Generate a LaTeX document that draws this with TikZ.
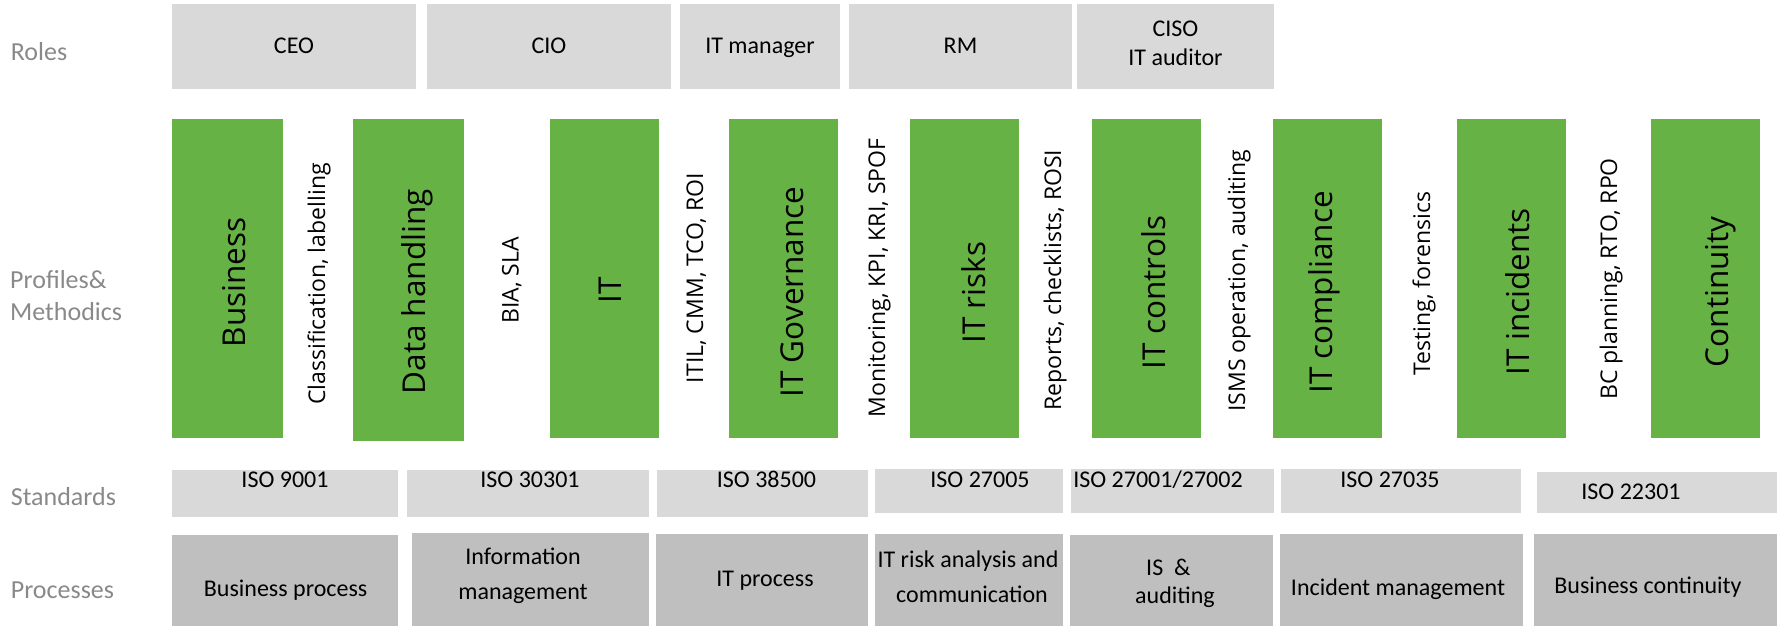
\documentclass[tikz,border=0pt]{standalone}
\usepackage{fontspec}
\setmainfont{Carlito}
\newfontfamily\osans{Open Sans}
\definecolor{lgray}{RGB}{217,217,217}
\definecolor{dgray}{RGB}{191,191,191}
\definecolor{mygreen}{RGB}{103,178,69}
\definecolor{labgray}{RGB}{137,137,137}
\newcommand\rbox[6]{\node[boxbase,fill=#2,minimum width={(#5-#3)*1pt},minimum height={(#6-#4)*1pt}] (#1) at (#3,#4) {};}
\tikzset{
  boxbase/.style={anchor=north west,inner sep=0pt,outer sep=0pt,draw=none},
  lbl/.style={font=\fontsize{26}{30}\selectfont,text=labgray,inner sep=0pt,anchor=base west},
  txt/.style={font=\fontsize{24}{28}\selectfont,text=black,inner sep=0pt,anchor=base},
  gtxt/.style={font=\osans\fontsize{31.5}{36}\selectfont,text=black,rotate=90,inner sep=0pt,anchor=base},
  mtxt/.style={font=\osans\fontsize{23}{28}\selectfont,text=black,rotate=90,inner sep=0pt,anchor=base},
}
\begin{document}
\begin{tikzpicture}[x=1pt,y=-1pt]
\useasboundingbox (0,0) rectangle (1777,626);
% left labels
\node[lbl] (lroles) at (10.7,60) {Roles};
\node[lbl] (lprof1) at (10,288) {Profiles\&};
\node[lbl] (lprof2) at (10,320) {Methodics};
\node[lbl] (lstd) at (10.7,505) {Standards};
\node[lbl] (lproc) at (10.7,598) {Processes};
% roles
\rbox{r1}{lgray}{172}{4}{416}{88.7}
\rbox{r2}{lgray}{427}{4}{671}{88.7}
\rbox{r3}{lgray}{680}{4}{840}{88.7}
\rbox{r4}{lgray}{849}{4}{1072}{88.7}
\rbox{r5}{lgray}{1077}{4}{1274}{88.7}
\node[txt] (tr1) at (294,54) {CEO};
\node[txt] (tr2) at (549,54) {CIO};
\node[txt] (tr3) at (760,54) {IT manager};
\node[txt] (tr4) at (960.5,54) {RM};
\node[txt] (tr5a) at (1175.5,37) {CISO};
\node[txt] (tr5b) at (1175.5,66) {IT auditor};
% green columns
\rbox{g1}{mygreen}{172}{119}{283}{437.7}
\rbox{g2}{mygreen}{353}{119}{464}{440.7}
\rbox{g3}{mygreen}{550}{119}{658.6}{437.7}
\rbox{g4}{mygreen}{729}{119}{838}{437.7}
\rbox{g5}{mygreen}{910}{119}{1019}{437.7}
\rbox{g6}{mygreen}{1092}{119}{1200.7}{437.7}
\rbox{g7}{mygreen}{1273}{119}{1382}{437.7}
\rbox{g8}{mygreen}{1457}{119}{1566}{437.7}
\rbox{g9}{mygreen}{1651}{119}{1760}{437.7}
\node[gtxt] (tg1) at (245,282.5) {Business};
\node[gtxt] (tg2) at (425,291.7) {Data handling};
\node[gtxt] (tg3) at (621,290) {IT};
\node[gtxt] (tg4) at (803,292) {IT Governance};
\node[gtxt] (tg5) at (985,292.5) {IT risks};
\node[gtxt] (tg6) at (1165.6,292.5) {IT controls};
\node[gtxt] (tg7) at (1332,292.5) {IT compliance};
\node[gtxt] (tg8) at (1529,291.7) {IT incidents};
\node[gtxt] (tg9) at (1728,291.7) {Continuity};
% methods
\node[mtxt] (m1) at (325,284) {Classification, labelling};
\node[mtxt] (m2) at (518.5,280.5) {BIA, SLA};
\node[mtxt] (m3) at (703,278) {ITIL, CMM, TCO, ROI};
\node[mtxt] (m4) at (885,278) {Monitoring, KPI, KRI, SPOF};
\node[mtxt] (m5) at (1061,280) {Reports, checklists, ROSI};
\node[mtxt] (m6) at (1245,280.5) {ISMS operation, auditing};
\node[mtxt] (m7) at (1430,283.5) {Testing, forensics};
\node[mtxt] (m8) at (1617,279) {BC planning, RTO, RPO};
% standards
\rbox{s1}{lgray}{172}{470}{398}{516.7}
\rbox{s2}{lgray}{406.8}{470}{649}{516.7}
\rbox{s3}{lgray}{656.6}{470}{868}{516.7}
\rbox{s4}{lgray}{874.8}{469}{1063}{512.7}
\rbox{s5}{lgray}{1070.7}{469}{1273.8}{512.7}
\rbox{s6}{lgray}{1281}{469}{1520.7}{512.7}
\rbox{s7}{lgray}{1537}{471.7}{1777}{512.7}
\node[txt] (ts1) at (285,487) {ISO 9001};
\node[txt] (ts2) at (530,487) {ISO 30301};
\node[txt] (ts3) at (766.5,487) {ISO 38500};
\node[txt] (ts4) at (980,487) {ISO 27005};
\node[txt] (ts5) at (1158,487) {ISO 27001/27002};
\node[txt] (ts6) at (1390,487) {ISO 27035};
\node[txt] (ts7) at (1631,499.5) {ISO 22301};
% processes
\rbox{p1}{dgray}{172}{535}{398}{626}
\rbox{p2}{dgray}{412}{533.3}{649}{626}
\rbox{p3}{dgray}{656}{534}{868}{626}
\rbox{p4}{dgray}{875}{534}{1063}{626}
\rbox{p5}{dgray}{1070}{535}{1273}{626}
\rbox{p6}{dgray}{1279.6}{534}{1522.7}{626}
\rbox{p7}{dgray}{1534}{534}{1777}{626}
\node[txt] (tp1) at (285.6,596) {Business process};
\node[txt] (tp2a) at (523,564) {Information};
\node[txt] (tp2b) at (523,599) {management};
\node[txt] (tp3) at (765,586) {IT process};
\node[txt] (tp4a) at (968,567) {IT risk analysis and};
\node[txt] (tp4b) at (972,602) {communication};
\node[txt,anchor=base west] (tp5a) at (1146,575) {IS\ \ \&};
\node[txt,anchor=base west] (tp5b) at (1135,603) {auditing};
\node[txt] (tp6) at (1398,595) {Incident management};
\node[txt] (tp7) at (1648,593) {Business continuity};
\end{tikzpicture}
\end{document}
